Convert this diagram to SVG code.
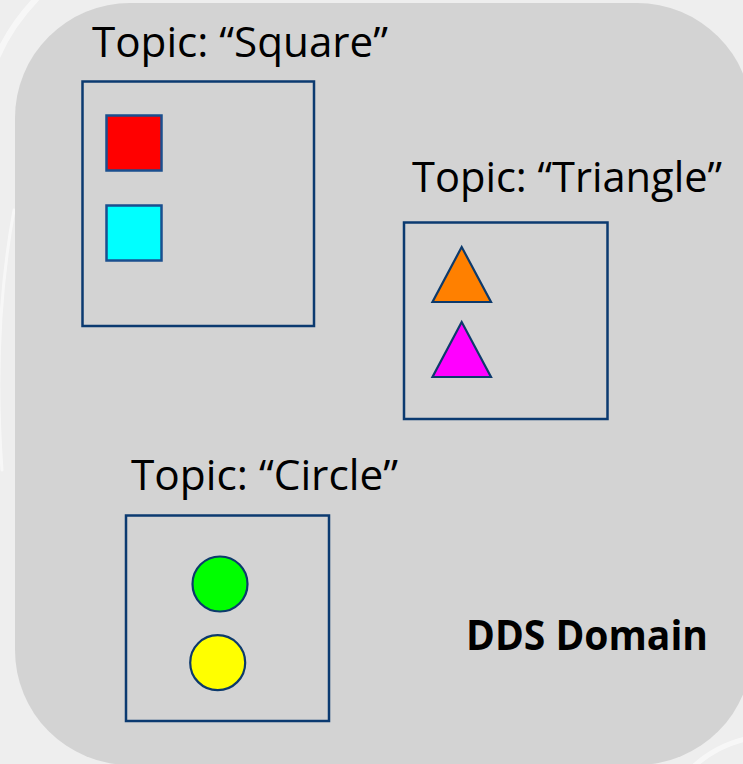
<svg xmlns="http://www.w3.org/2000/svg" width="743" height="764" viewBox="0 0 743 764">
  <style>
    .lbl { font-family: "Open Sans", "Noto Sans", "Liberation Sans", sans-serif; font-size: 42px; fill: #000; }
    .bold { font-weight: bold; }
    .topic { fill: none; stroke: #0b3a70; stroke-width: 2.5; }
    .sq { stroke: #1a4f8f; stroke-width: 2.5; }
    .shape { stroke: #0d3a6c; stroke-width: 2.2; }
    .streak { fill: none; stroke: #ffffff; stroke-opacity: 0.55; stroke-linecap: round; }
  </style>
  <rect x="0" y="0" width="743" height="764" fill="#eeeeee"/>
  <path class="streak" d="M -5 62 Q 10 25 40 -5" stroke-width="6"/>
  <path class="streak" d="M 2 470 Q -8 330 14 210" stroke-width="3"/>
  <path class="streak" d="M 690 770 Q 715 745 750 738" stroke-width="5"/>
  <g id="domain">
    <rect x="15" y="3" width="737" height="762" rx="115" ry="115" fill="#d3d3d3"/>
    <text class="lbl bold" x="466" y="650" textLength="242" lengthAdjust="spacingAndGlyphs">DDS Domain</text>
  </g>
  <g id="topic-square">
    <text class="lbl" x="92" y="57" textLength="296" lengthAdjust="spacingAndGlyphs">Topic: “Square”</text>
    <rect class="topic" x="82.5" y="81.5" width="231.5" height="244.5"/>
    <rect class="sq" x="106.5" y="115.5" width="55" height="55" fill="#ff0000"/>
    <rect class="sq" x="106.5" y="205.5" width="55" height="55" fill="#00ffff"/>
  </g>
  <g id="topic-triangle">
    <text class="lbl" x="412" y="192" textLength="310" lengthAdjust="spacingAndGlyphs">Topic: “Triangle”</text>
    <rect class="topic" x="404" y="222.5" width="203.5" height="196.5"/>
    <polygon class="shape" points="461.7,247 432.5,302 491,302" fill="#ff8000"/>
    <polygon class="shape" points="461.7,322 432.5,377 491,377" fill="#ff00ff"/>
  </g>
  <g id="topic-circle">
    <text class="lbl" x="131" y="490" textLength="267" lengthAdjust="spacingAndGlyphs">Topic: “Circle”</text>
    <rect class="topic" x="126" y="515.5" width="203" height="205.5"/>
    <circle class="shape" cx="220" cy="584" r="27.5" fill="#00ff00"/>
    <circle class="shape" cx="217.7" cy="662.7" r="27.5" fill="#ffff00"/>
  </g>
  <g id="connectors"/>
</svg>
